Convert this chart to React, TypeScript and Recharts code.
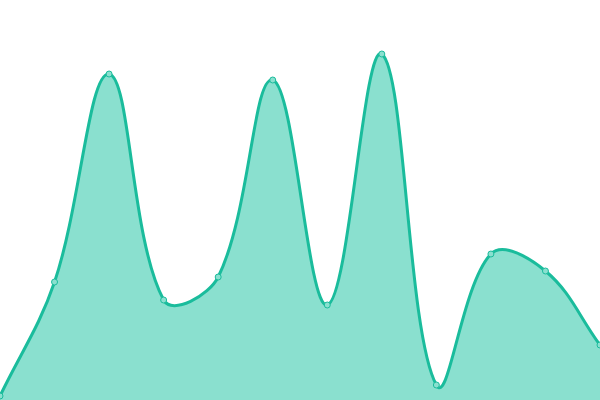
import React from 'react'
import { AreaChart, Area, XAxis, YAxis } from 'recharts'

const categories = ['A', 'B', 'C', 'D', 'E', 'F', 'G', 'H', 'I', 'J', 'K', 'L']
const values = [4, 118, 326, 100, 123, 320, 95, 346, 15, 146, 129, 55]

const data = categories.map((name, i) => ({ name, value: values[i] }))

const TENSION = 0.38

// spline with handles scaled by neighbouring segment lengths
const smoothCurve = (context: any) => {
  let pts: number[][] = []
  let line = NaN
  return {
    areaStart() { line = 0 },
    areaEnd() { line = NaN },
    lineStart() { pts = [] },
    point(x: number, y: number) { pts.push([+x, +y]) },
    lineEnd() {
      const n = pts.length
      if (n > 0) {
        if (line) context.lineTo(pts[0][0], pts[0][1])
        else context.moveTo(pts[0][0], pts[0][1])
        const cps = pts.map((p, i) => {
          const prev = pts[i - 1] || p
          const next = pts[i + 1] || p
          const d01 = Math.hypot(p[0] - prev[0], p[1] - prev[1])
          const d12 = Math.hypot(next[0] - p[0], next[1] - p[1])
          const sum = d01 + d12
          const s01 = sum ? d01 / sum : 0
          const s12 = sum ? d12 / sum : 0
          const vx = next[0] - prev[0]
          const vy = next[1] - prev[1]
          return {
            inX: p[0] - TENSION * s01 * vx,
            inY: p[1] - TENSION * s01 * vy,
            outX: p[0] + TENSION * s12 * vx,
            outY: p[1] + TENSION * s12 * vy,
          }
        })
        for (let i = 1; i < n; i++) {
          context.bezierCurveTo(cps[i - 1].outX, cps[i - 1].outY, cps[i].inX, cps[i].inY, pts[i][0], pts[i][1])
        }
      }
      if (line || (line !== 0 && n === 1)) context.closePath()
      line = 1 - line
    },
  }
}

const App: React.FC = () => {
  return (
    <div style={{ position: 'absolute', top: 0, left: 0, width: 600, height: 400, background: '#fff' }}>
      <AreaChart width={600} height={400} data={data} margin={{ top: 0, right: 0, left: 0, bottom: 0 }}>
        <XAxis dataKey="name" hide />
        <YAxis hide domain={[0, 400]} />
        <Area
          type={smoothCurve as any}
          dataKey="value"
          stroke="#1abc9c"
          strokeWidth={3}
          fill="#8ae0cf"
          fillOpacity={1}
          dot={{ r: 3, fill: '#8ae0cf', stroke: '#1abc9c', strokeWidth: 1 }}
          activeDot={false}
          isAnimationActive={false}
        />
      </AreaChart>
    </div>
  )
}

export default App
